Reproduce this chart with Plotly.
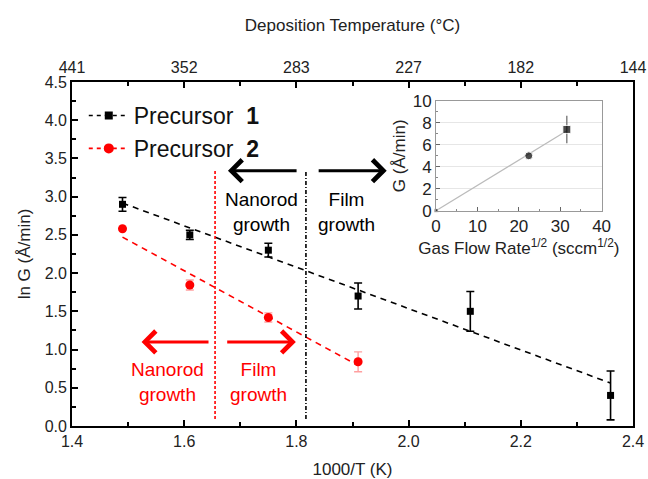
import numpy as np
import plotly.graph_objects as go

# ---- main panel: ln G versus 1000/T ----
p1_x = [1.49, 1.61, 1.75, 1.91, 2.11, 2.36]
p1_y = [2.90, 2.50, 2.30, 1.70, 1.50, 0.40]
p1_err = [0.09, 0.06, 0.09, 0.17, 0.26, 0.32]

p2_x = [1.49, 1.61, 1.75, 1.91]
p2_y = [2.58, 1.845, 1.42, 0.84]
p2_err = [0.0, 0.065, 0.06, 0.13]

# growth-regime boundaries (1000/T) and their vertical extent in ln G
boundary_black = 1.817
boundary_red = 1.655
boundary_span = [0.09, 3.35]

# top-axis tick labels: deposition temperature in °C
top_tickvals = [1.4, 1.6, 1.8, 2.0, 2.2, 2.4]
top_ticktext = ["441", "352", "283", "227", "182", "144"]

# ---- inset: growth rate versus sqrt(gas flow) ----
inset_x = [0.0, 22.4, 31.6]
inset_y = [0.0, 5.0, 7.4]
inset_err = [0.0, 0.0, 1.25]

FONT = "Liberation Sans, Arial, sans-serif"
RED = "#ff0000"
TXT = "#222222"

# linear fits through each precursor's data
b1 = np.polyfit(p1_x, p1_y, 1)
b2 = np.polyfit(p2_x, p2_y, 1)
fit1_x = [p1_x[0], p1_x[-1]]
fit2_x = [p2_x[0], p2_x[-1]]

# least-squares line through the origin for the inset
ix = np.array(inset_x)
iy = np.array(inset_y)
slope0 = float((ix * iy).sum() / (ix * ix).sum())
inset_fit_x = [0.0, inset_x[-1]]

fig = go.Figure()

fig.add_trace(go.Scatter(
    x=fit1_x, y=list(np.polyval(b1, fit1_x)), mode="lines",
    line=dict(color="black", dash="6px,5px", width=1.6), showlegend=False))
fig.add_trace(go.Scatter(
    x=fit2_x, y=list(np.polyval(b2, fit2_x)), mode="lines",
    line=dict(color=RED, dash="6px,5px", width=1.6), showlegend=False))

fig.add_trace(go.Scatter(
    x=p1_x, y=p1_y, mode="markers",
    marker=dict(symbol="square", size=7, color="black"),
    error_y=dict(type="data", array=p1_err, color="black", thickness=1.6, width=4),
    showlegend=False))
fig.add_trace(go.Scatter(
    x=p2_x, y=p2_y, mode="markers",
    marker=dict(symbol="circle", size=9, color=RED),
    error_y=dict(type="data", array=p2_err, color="rgba(255,80,80,0.55)",
                 thickness=1.4, width=4),
    showlegend=False))

# legend entries
fig.add_trace(go.Scatter(
    x=[None], y=[None], mode="lines+markers", name="Precursor  <b>1</b>",
    line=dict(color="black", dash="4px,4px", width=1.6),
    marker=dict(symbol="square", size=8, color="black")))
fig.add_trace(go.Scatter(
    x=[None], y=[None], mode="lines+markers", name="Precursor  <b>2</b>",
    line=dict(color=RED, dash="4px,4px", width=1.6),
    marker=dict(symbol="circle", size=10, color=RED)))

# invisible trace carrying the top temperature axis
fig.add_trace(go.Scatter(
    x=top_tickvals, y=[None] * len(top_tickvals), xaxis="x2", yaxis="y",
    mode="markers", showlegend=False, hoverinfo="skip"))

# inset traces
fig.add_trace(go.Scatter(
    x=inset_fit_x, y=[slope0 * v for v in inset_fit_x], mode="lines",
    xaxis="x3", yaxis="y3", line=dict(color="#bbbbbb", width=1.2), showlegend=False))
fig.add_trace(go.Scatter(
    x=inset_x, y=inset_y, mode="markers", xaxis="x3", yaxis="y3",
    marker=dict(symbol=["square", "circle", "square"], size=[4, 8, 8], color="black"),
    error_y=dict(type="data", array=inset_err, color="#666666", thickness=1.2, width=0),
    cliponaxis=False, showlegend=False))

# regime boundary lines
fig.add_shape(type="line", xref="x", yref="y",
              x0=boundary_black, x1=boundary_black,
              y0=boundary_span[0], y1=boundary_span[1],
              line=dict(color="black", width=1.6, dash="4px,2px,1px,2px"))
fig.add_shape(type="line", xref="x", yref="y",
              x0=boundary_red, x1=boundary_red,
              y0=boundary_span[0], y1=boundary_span[1],
              line=dict(color=RED, width=1.6, dash="3px,2px"))

annotations = []


def arrow(x_tail, x_head, y, color):
    annotations.append(dict(
        x=x_head, y=y, ax=x_tail, ay=y, xref="x", yref="y", axref="x", ayref="y",
        showarrow=True, arrowhead=4, arrowsize=1.4, arrowwidth=3.0,
        arrowcolor=color, text=""))


arrow(1.803, 1.678, 3.34, "black")
arrow(1.837, 1.961, 3.34, "black")
arrow(1.646, 1.524, 1.10, RED)
arrow(1.674, 1.799, 1.10, RED)


def label(x, y, txt, color):
    annotations.append(dict(
        x=x, y=y, xref="x", yref="y", text=txt, showarrow=False,
        font=dict(family=FONT, size=19, color=color), align="center"))


label(1.738, 2.80, "Nanorod<br>growth", "black")
label(1.890, 2.80, "Film<br>growth", "black")
label(1.571, 0.58, "Nanorod<br>growth", RED)
label(1.732, 0.58, "Film<br>growth", RED)

axis_font = dict(family=FONT, size=16, color=TXT)
title_font = dict(family=FONT, size=17, color=TXT)

fig.update_layout(
    width=648, height=479,
    margin=dict(l=72, r=15, t=82, b=53, autoexpand=False),
    paper_bgcolor="white", plot_bgcolor="white",
    font=dict(family=FONT, color=TXT),
    annotations=annotations,
    legend=dict(x=0.021, y=0.965, xanchor="left", yanchor="top",
                bgcolor="rgba(0,0,0,0)", tracegroupgap=0,
                font=dict(family=FONT, size=23, color="#111111"),
                itemwidth=40),
    xaxis=dict(
        range=[1.4, 2.4], dtick=0.2, tick0=1.4, tickformat=".1f", automargin=False,
        ticks="inside", ticklen=6, tickwidth=1.5, tickcolor="black",
        minor=dict(dtick=0.1, ticks="inside", ticklen=4, tickwidth=1.5, tickcolor="black"),
        showline=True, linecolor="black", linewidth=1.8, mirror=True,
        showgrid=False, zeroline=False, tickfont=axis_font,
        title=dict(text="1000/T (K)", font=title_font, standoff=15)),
    xaxis2=dict(
        overlaying="x", side="top", range=[1.4, 2.4], automargin=False,
        tickvals=top_tickvals, ticktext=top_ticktext, ticklabelstandoff=5,
        ticks="inside", ticklen=6, tickwidth=1.5, tickcolor="black",
        minor=dict(dtick=0.1, tick0=1.4, ticks="inside", ticklen=4, tickwidth=1.5,
                   tickcolor="black"),
        showline=False, showgrid=False, zeroline=False, tickfont=axis_font,
        title=dict(text="Deposition Temperature (°C)", font=title_font, standoff=22)),
    yaxis=dict(
        range=[0, 4.5], dtick=0.5, tickformat=".1f", automargin=False,
        ticks="inside", ticklen=6, tickwidth=1.5, tickcolor="black",
        minor=dict(dtick=0.25, ticks="inside", ticklen=4, tickwidth=1.5, tickcolor="black"),
        showline=True, linecolor="black", linewidth=1.8, mirror=True,
        showgrid=False, zeroline=False, tickfont=axis_font,
        title=dict(text="ln G (Å/min)", font=title_font, standoff=10)),
    xaxis3=dict(
        domain=[0.649, 0.944], anchor="y3", range=[0, 40], dtick=10, automargin=False,
        ticks="inside", ticklen=4, tickcolor="#666666",
        minor=dict(dtick=5, ticks="inside", ticklen=2, tickcolor="#888888"),
        showline=True, linecolor="#999999", linewidth=1, mirror=True,
        showgrid=False, zeroline=False,
        tickfont=dict(family=FONT, size=17, color=TXT),
        title=dict(text="Gas Flow Rate<sup>1/2</sup> (sccm<sup>1/2</sup>)",
                   font=title_font, standoff=2)),
    yaxis3=dict(
        domain=[0.626, 0.945], anchor="x3", range=[0, 10], dtick=2, automargin=False,
        ticks="inside", ticklen=4, tickcolor="#666666",
        minor=dict(dtick=1, ticks="inside", ticklen=2, tickcolor="#888888"),
        showline=True, linecolor="#999999", linewidth=1, mirror=True,
        showgrid=True, gridcolor="#e6e6e6", gridwidth=1, zeroline=False,
        tickfont=dict(family=FONT, size=17, color=TXT),
        title=dict(text="G (Å/min)", font=title_font, standoff=2)),
)

fig.write_html("out.html")
